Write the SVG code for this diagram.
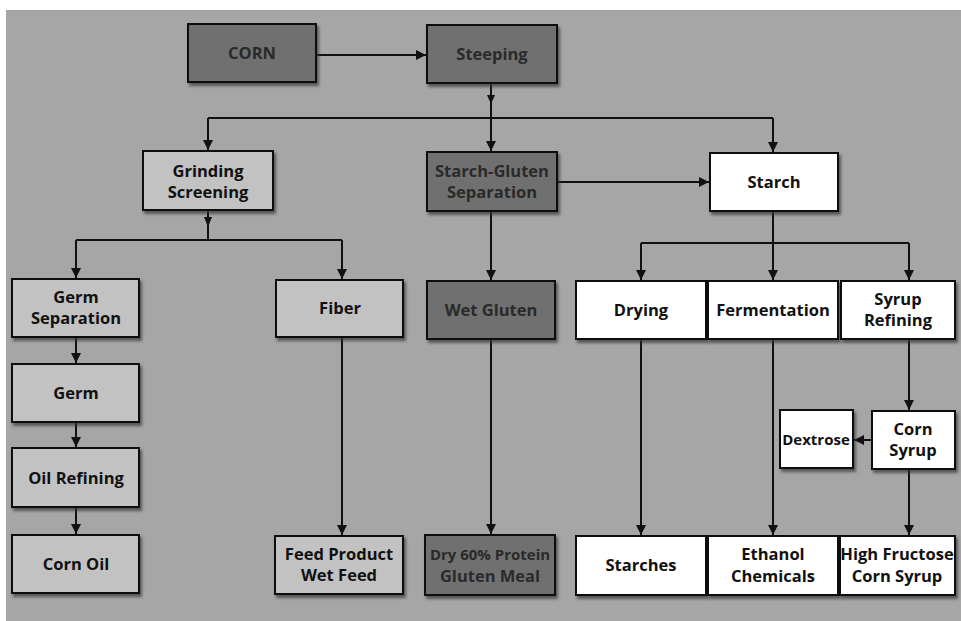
<svg xmlns="http://www.w3.org/2000/svg" width="961" height="621" viewBox="0 0 961 621">
<defs>
<marker id="ah" viewBox="0 0 10 10" refX="10" refY="5" markerWidth="5" markerHeight="5" orient="auto" markerUnits="strokeWidth">
<path d="M0,0 L10,5 L0,10 z" fill="#111"/>
</marker>
<filter id="sh" x="-10%" y="-10%" width="130%" height="140%">
<feDropShadow dx="2" dy="3" stdDeviation="1.5" flood-color="#333" flood-opacity="0.7"/>
</filter>
</defs>
<style>
.bg{fill:#a6a6a6}
.box{stroke:#111;stroke-width:2;filter:url(#sh)}
.dark{fill:#6f6f6f}
.light{fill:#c2c2c2}
.white{fill:#ffffff}
.t{font-family:"Open Sans","Liberation Sans",sans-serif;font-weight:700;font-size:16.5px;text-anchor:middle;fill:#111}
.td{fill:#2a2a2a}
.s{font-size:15px}
.c{fill:none;stroke:#111;stroke-width:2}
.ca{fill:none;stroke:#111;stroke-width:2;marker-end:url(#ah)}
</style>
<rect x="0" y="0" width="961" height="621" fill="#ffffff"/>
<rect class="bg" x="6" y="10" width="955" height="611"/>

<g id="connectors">
<line class="ca" x1="316" y1="55" x2="426" y2="55"/>
<polyline class="c" points="491,83 491,118"/>
<path d="M487,95 L495,95 L491,104 z" fill="#111"/>
<line class="c" x1="208" y1="118" x2="773" y2="118"/>
<line class="ca" x1="208" y1="118" x2="208" y2="150"/>
<line class="ca" x1="491" y1="118" x2="491" y2="151"/>
<line class="ca" x1="773" y1="118" x2="773" y2="152"/>
<line class="ca" x1="557" y1="182" x2="709" y2="182"/>
<line class="c" x1="208" y1="210" x2="208" y2="240"/>
<path d="M204,217 L212,217 L208,227 z" fill="#111"/>
<line class="c" x1="76" y1="240" x2="342" y2="240"/>
<line class="ca" x1="76" y1="240" x2="76" y2="278"/>
<line class="ca" x1="342" y1="240" x2="342" y2="279"/>
<line class="ca" x1="491" y1="211" x2="491" y2="280"/>
<line class="c" x1="773" y1="211" x2="773" y2="243"/>
<line class="c" x1="641" y1="243" x2="909" y2="243"/>
<line class="ca" x1="641" y1="243" x2="641" y2="280"/>
<line class="ca" x1="773" y1="243" x2="773" y2="280"/>
<line class="ca" x1="909" y1="243" x2="909" y2="280"/>
<line class="ca" x1="76" y1="337" x2="76" y2="363"/>
<line class="ca" x1="76" y1="422" x2="76" y2="447"/>
<line class="ca" x1="76" y1="507" x2="76" y2="534"/>
<line class="ca" x1="342" y1="337" x2="342" y2="535"/>
<line class="ca" x1="491" y1="339" x2="491" y2="534"/>
<line class="ca" x1="641" y1="339" x2="641" y2="535"/>
<line class="ca" x1="773" y1="339" x2="773" y2="535"/>
<line class="ca" x1="909" y1="339" x2="909" y2="410"/>
<line class="ca" x1="872" y1="440" x2="854" y2="440"/>
<line class="ca" x1="909" y1="469" x2="909" y2="535"/>
</g>

<g id="corn"><rect class="box dark" x="188" y="24" width="128" height="58"/><text class="t td" x="252" y="59">CORN</text></g>
<g id="steeping"><rect class="box dark" x="427" y="25" width="130" height="58"/><text class="t td" x="492" y="60">Steeping</text></g>
<g id="grinding"><rect class="box light" x="143" y="151" width="130" height="59"/><text class="t" x="208" y="177">Grinding</text><text class="t" x="208" y="198">Screening</text></g>
<g id="starch-gluten"><rect class="box dark" x="427" y="152" width="130" height="59"/><text class="t td" x="492" y="177">Starch-Gluten</text><text class="t td" x="492" y="198">Separation</text></g>
<g id="starch"><rect class="box white" x="710" y="153" width="128" height="58"/><text class="t" x="774" y="188">Starch</text></g>

<g id="germ-separation"><rect class="box light" x="12" y="279" width="127" height="58"/><text class="t" x="76" y="303">Germ</text><text class="t" x="76" y="324">Separation</text></g>
<g id="fiber"><rect class="box light" x="276" y="280" width="127" height="57"/><text class="t" x="340" y="314">Fiber</text></g>
<g id="wet-gluten"><rect class="box dark" x="427" y="281" width="128" height="58"/><text class="t td" x="491" y="316">Wet Gluten</text></g>
<g id="drying"><rect class="box white" x="576" y="281" width="130" height="58"/><text class="t" x="641" y="316">Drying</text></g>
<g id="fermentation"><rect class="box white" x="708" y="281" width="130" height="58"/><text class="t" x="773" y="316">Fermentation</text></g>
<g id="syrup-refining"><rect class="box white" x="841" y="281" width="114" height="58"/><text class="t" x="898" y="305">Syrup</text><text class="t" x="898" y="326">Refining</text></g>

<g id="germ"><rect class="box light" x="12" y="364" width="127" height="58"/><text class="t" x="76" y="399">Germ</text></g>
<g id="oil-refining"><rect class="box light" x="12" y="448" width="127" height="59"/><text class="t" x="76" y="484">Oil Refining</text></g>
<g id="corn-oil"><rect class="box light" x="12" y="535" width="127" height="58"/><text class="t" x="76" y="570">Corn Oil</text></g>

<g id="dextrose"><rect class="box white" x="780" y="410" width="73" height="58"/><text class="t s" x="816" y="445">Dextrose</text></g>
<g id="corn-syrup"><rect class="box white" x="872" y="411" width="83" height="58"/><text class="t" x="913" y="435">Corn</text><text class="t" x="913" y="456">Syrup</text></g>

<g id="feed-product"><rect class="box light" x="275" y="536" width="128" height="58"/><text class="t" x="339" y="560">Feed Product</text><text class="t" x="339" y="581">Wet Feed</text></g>
<g id="gluten-meal"><rect class="box dark" x="425" y="535" width="130" height="60"/><text class="t td s" x="490" y="560">Dry 60% Protein</text><text class="t td" x="490" y="582">Gluten Meal</text></g>
<g id="starches"><rect class="box white" x="576" y="536" width="130" height="59"/><text class="t" x="641" y="571">Starches</text></g>
<g id="ethanol"><rect class="box white" x="708" y="536" width="130" height="59"/><text class="t" x="773" y="560">Ethanol</text><text class="t" x="773" y="582">Chemicals</text></g>
<g id="hfcs"><rect class="box white" x="840" y="536" width="115" height="59"/><text class="t" x="897" y="560">High Fructose</text><text class="t" x="897" y="582">Corn Syrup</text></g>
</svg>
